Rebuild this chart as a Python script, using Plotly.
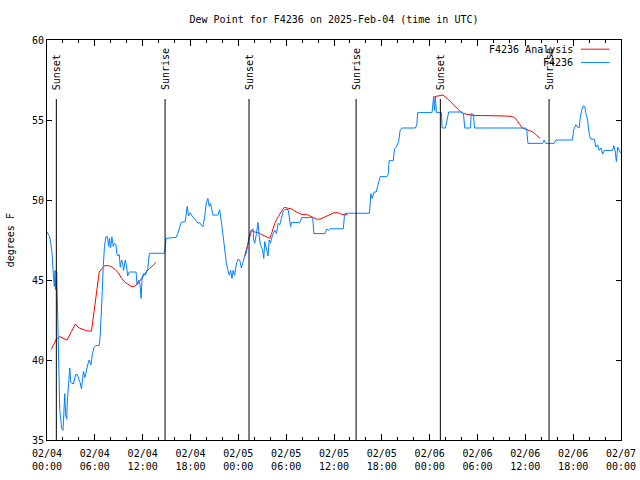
import plotly.graph_objects as go
import pandas as pd

START = pd.Timestamp("2025-02-04 00:00")
TITLE = "Dew Point for F4236 on 2025-Feb-04 (time in UTC)"

# observed dew point (hours after 02/04 00:00 UTC, deg F)
obs_hours = [
    0.00, 0.19, 0.34, 0.50, 0.63, 0.76, 0.84, 0.92, 1.01, 1.07,
    1.22, 1.30, 1.42, 1.60, 1.72, 1.85, 2.01, 2.14, 2.23, 2.35,
    2.48, 2.56, 2.68, 2.86, 2.98, 3.31, 3.61, 3.81, 4.03, 4.15,
    4.32, 4.44, 4.57, 4.75, 4.95, 5.16, 5.29, 5.50, 5.70, 5.92,
    6.13, 6.55, 6.67, 6.76, 6.89, 7.05, 7.21, 7.39, 7.59, 7.72,
    7.84, 7.97, 8.14, 8.31, 8.47, 8.65, 8.77, 8.94, 9.06, 9.19,
    9.35, 9.48, 9.60, 9.82, 9.98, 10.11, 10.32, 10.95, 11.17, 11.29,
    11.49, 11.67, 11.80, 11.92, 12.08, 12.34, 12.63, 12.84, 14.73, 14.94,
    16.20, 16.40, 16.62, 16.83, 17.33, 17.59, 17.75, 17.96, 18.21, 18.50,
    18.72, 18.92, 19.13, 19.35, 19.55, 19.76, 19.98, 20.18, 20.35, 20.52,
    20.68, 20.81, 21.44, 21.65, 21.87, 22.07, 22.28, 22.49, 22.70, 22.87,
    23.04, 23.20, 23.35, 23.54, 23.75, 23.95, 24.17, 24.38, 24.58, 24.80,
    25.01, 25.21, 25.43, 25.64, 25.84, 25.93, 26.06, 26.27, 26.47, 26.60,
    26.77, 27.03, 27.19, 27.32, 27.53, 27.73, 27.86, 28.03, 28.29, 28.57,
    28.79, 28.99, 29.20, 29.42, 29.62, 29.83, 30.25, 30.37, 30.55, 30.68,
    31.72, 31.94, 33.32, 33.48, 34.87, 35.08, 35.28, 35.50, 37.17, 37.30,
    37.39, 40.45, 40.53, 40.62, 40.78, 41.04, 41.29, 41.45, 41.58, 41.79,
    42.63, 42.80, 42.92, 43.43, 43.59, 43.81, 44.10, 44.31, 44.52, 46.20,
    46.39, 46.49, 48.30, 48.43, 48.50, 48.59, 48.71, 48.84, 49.47, 49.56,
    49.97, 50.39, 52.08, 52.24, 52.40, 53.12, 53.21, 53.50, 53.62, 60.04,
    60.17, 60.33, 62.15, 62.35, 62.56, 63.61, 63.82, 64.03, 65.92, 66.05,
    66.34, 66.55, 66.75, 66.88, 67.06, 67.31, 67.47, 67.60, 67.81, 67.94,
    68.07, 68.23, 68.64, 68.86, 69.07, 69.27, 69.49, 69.70, 69.90, 70.96,
    71.09, 71.26, 71.42, 71.59, 71.79, 72.00,
]
obs_dewpt = [
    48.0, 47.8, 47.7, 47.2, 46.7, 45.6, 45.0, 44.6, 45.6, 44.4,
    45.5, 43.3, 39.4, 36.9, 36.3, 35.7, 35.6, 36.7, 37.9, 36.5,
    36.3, 37.5, 38.6, 39.5, 38.6, 38.5, 39.1, 39.1, 38.75, 38.6,
    38.2, 38.7, 39.3, 38.9, 39.4, 39.8, 40.0, 39.7, 40.4, 40.8,
    40.9, 40.9, 41.5, 42.3, 43.75, 45.8, 47.1, 47.7, 47.7, 47.1,
    47.6, 47.0, 47.7, 47.1, 47.3, 47.2, 46.6, 46.5, 46.6, 45.8,
    46.25, 46.1, 45.6, 46.25, 45.9, 45.25, 45.5, 45.5, 45.5, 44.7,
    45.0, 44.7, 43.85, 45.0, 45.4, 45.3, 45.7, 46.67, 46.67, 47.6,
    47.67, 47.9, 48.2, 48.6, 48.65, 49.6, 49.0, 49.2, 49.0, 48.85,
    48.7, 48.54, 48.6, 48.44, 48.33, 48.9, 49.8, 50.1, 49.6, 49.8,
    49.4, 49.06, 49.06, 49.4, 48.65, 47.7, 46.9, 46.1, 45.6, 45.3,
    45.6, 45.1, 45.6, 45.3, 46.0, 46.3, 46.25, 45.75, 46.1, 46.5,
    46.7, 47.3, 47.9, 48.1, 48.2, 47.5, 47.3, 47.9, 48.6, 47.8,
    47.2, 46.9, 46.35, 47.4, 46.9, 46.5, 47.5, 47.3, 47.8, 48.1,
    47.9, 48.54, 48.45, 48.96, 49.27, 49.4, 49.4, 49.0, 48.33, 48.6,
    48.6, 48.9, 48.9, 47.9, 47.9, 48.2, 48.1, 48.2, 48.2, 48.96,
    49.17, 49.17, 49.6, 50.4, 50.1, 50.5, 50.5, 50.8, 51.0, 51.46,
    51.46, 51.6, 52.46, 52.46, 53.2, 53.3, 53.65, 54.4, 54.5, 54.5,
    54.7, 55.46, 55.46, 56.04, 56.46, 55.6, 56.46, 55.46, 55.46, 54.5,
    54.5, 55.5, 55.5, 55.4, 54.5, 54.5, 55.4, 55.35, 54.5, 54.5,
    54.4, 53.54, 53.54, 53.75, 53.54, 53.54, 53.75, 53.75, 53.75, 54.375,
    54.7, 54.55, 54.5, 55.1, 55.6, 55.9, 55.8, 55.4, 55.0, 54.4,
    53.96, 53.8, 53.8, 53.3, 53.45, 53.1, 53.25, 52.87, 53.1, 53.1,
    53.4, 53.1, 52.4, 53.3, 53.1, 52.9,
]

# analysis (None = gap between runs)
ana_hours = [
    0.54, 0.97, 1.17, 1.60, 2.01, 2.52, 3.06, 3.56, 4.03, 4.53,
    4.95, 5.58, 5.70, 5.88, 6.08, 6.29, 6.55, 6.84, 7.26, 7.68,
    8.09, 8.52, 8.94, 9.28, 9.69, 10.11, 10.54, 10.95, 11.37, 11.58,
    12.00, 12.42, 12.84, 13.26, 13.68, None,
    24.80, 25.09, 25.34, 25.64, 26.06, 26.47, 26.90, 27.32, 27.73, 27.95,
    28.16, 28.36, 28.57, 28.99, 29.42, 29.75, 30.25, 30.68, 31.09, 31.51,
    31.94, 32.56, 32.98, 33.40, 33.82, 34.24, 34.65, 35.08, 35.50, 36.00,
    36.54, 36.97, 37.39, 37.68, None,
    48.59, 49.13, 49.68, 50.19, 50.60, 51.02, 51.45, 51.86, 52.28, 52.71,
    53.54, 54.38, 56.90, 57.53, 58.37, 58.79, 59.20, 59.63, 60.04, 60.46,
    60.89, 61.30, 61.85,
]
ana_dewpt = [
    40.67, 41.04, 41.3, 41.46, 41.35, 41.25, 41.77, 42.25, 42.0, 41.9,
    41.83, 41.8, 42.3, 42.9, 43.85, 44.6, 45.5, 45.7, 45.9, 45.9,
    45.83, 45.67, 45.45, 45.17, 44.9, 44.75, 44.6, 44.6, 44.75, 44.9,
    45.2, 45.5, 45.7, 45.9, 46.1, None,
    46.5, 47.0, 47.6, 48.1, 48.0, 47.96, 47.85, 47.75, 47.65, 47.6,
    47.9, 48.2, 48.54, 48.96, 49.33, 49.54, 49.48, 49.44, 49.3, 49.2,
    49.1, 49.1, 49.0, 48.9, 48.8, 48.8, 48.9, 49.0, 49.1, 49.2,
    49.2, 49.1, 49.07, 49.1, None,
    56.46, 56.52, 56.56, 56.35, 56.15, 55.94, 55.73, 55.52, 55.4, 55.35,
    55.28, 55.28, 55.28, 55.25, 55.22, 55.1, 54.8, 54.5, 54.42, 54.35,
    54.27, 54.1, 53.85,
]

sun_hours = [1.17, 14.81, 25.34, 38.77, 49.34, 62.98]
sun_labels = ["Sunset", "Sunrise", "Sunset", "Sunrise", "Sunset", "Sunrise"]

tick_hours = [0, 6, 12, 18, 24, 30, 36, 42, 48, 54, 60, 66, 72]
tick_labels = [
    "02/04<br>00:00", "02/04<br>06:00", "02/04<br>12:00", "02/04<br>18:00",
    "02/05<br>00:00", "02/05<br>06:00", "02/05<br>12:00", "02/05<br>18:00",
    "02/06<br>00:00", "02/06<br>06:00", "02/06<br>12:00", "02/06<br>18:00",
    "02/07<br>00:00",
]
series_names = ["F4236 Analysis", "F4236"]
series_colors = ["#ff0000", "#0080ff"]


def to_time(h):
    return None if h is None else START + pd.Timedelta(hours=h)


FONT = "DejaVu Sans Mono"

fig = go.Figure()
fig.add_trace(go.Scatter(
    x=[to_time(h) for h in ana_hours], y=ana_dewpt, mode="lines",
    line=dict(color=series_colors[0], width=1), connectgaps=False,
    name=series_names[0], showlegend=False))
fig.add_trace(go.Scatter(
    x=[to_time(h) for h in obs_hours], y=obs_dewpt, mode="lines",
    line=dict(color=series_colors[1], width=1),
    name=series_names[1], showlegend=False))

# sunrise / sunset markers
for h, lab in zip(sun_hours, sun_labels):
    t = to_time(h)
    fig.add_shape(type="line", xref="x", yref="paper", x0=t, x1=t,
                  y0=0, y1=0.8525, line=dict(color="black", width=1))
    fig.add_annotation(x=t, y=0.87, xref="x", yref="paper", text=lab,
                       textangle=-90, showarrow=False, xanchor="center",
                       yanchor="bottom", font=dict(family=FONT, size=10, color="black"))

# gnuplot-style key (text left, sample right)
for i, (nm, col) in enumerate(zip(series_names, series_colors)):
    yk = 0.977 - i * 0.033
    fig.add_annotation(x=0.919, y=yk, xref="paper", yref="paper", text=nm,
                       showarrow=False, xanchor="right", yanchor="middle",
                       font=dict(family=FONT, size=10, color="black"))
    fig.add_shape(type="line", xref="paper", yref="paper", x0=0.930, x1=0.980,
                  y0=yk, y1=yk, line=dict(color=col, width=1))

# y axis title
fig.add_annotation(x=-0.064, y=0.5, xref="paper", yref="paper", text="degrees F",
                   textangle=-90, showarrow=False, xanchor="center", yanchor="middle",
                   font=dict(family=FONT, size=10, color="black"))

minor_vals = [to_time(h) for h in range(0, 73, 2)]

fig.update_layout(
    width=640, height=480,
    margin=dict(l=47, r=19, t=40, b=40, autoexpand=False),
    paper_bgcolor="white", plot_bgcolor="white",
    font=dict(family=FONT, size=10, color="black"),
    title=dict(text=TITLE, x=0.5, xref="paper", xanchor="center",
               y=1 - 19 / 480, yref="container", yanchor="middle", automargin=False,
               font=dict(family=FONT, size=10, color="black")),
    showlegend=False,
)
fig.update_xaxes(
    type="date", range=[to_time(0), to_time(72)], automargin=False,
    tickmode="array", tickvals=[to_time(h) for h in tick_hours], ticktext=tick_labels,
    ticks="inside", ticklen=6, tickwidth=1, tickcolor="black", tickangle=0,
    showline=True, linecolor="black", linewidth=1, mirror="ticks",
    showgrid=False, zeroline=False, ticklabelstandoff=4,
    minor=dict(tickmode="array", tickvals=minor_vals, ticks="inside", ticklen=3,
               tickcolor="black", showgrid=False),
)
fig.update_yaxes(
    range=[35, 60], tickmode="linear", tick0=35, dtick=5, automargin=False,
    ticks="inside", ticklen=5, tickwidth=1, tickcolor="black",
    showline=True, linecolor="black", linewidth=1, mirror="ticks",
    showgrid=False, zeroline=False,
)

fig.write_html(
    "out.html",
    config={"displayModeBar": False},
    post_script="document.body.style.margin='0';document.body.style.overflow='hidden';",
)
